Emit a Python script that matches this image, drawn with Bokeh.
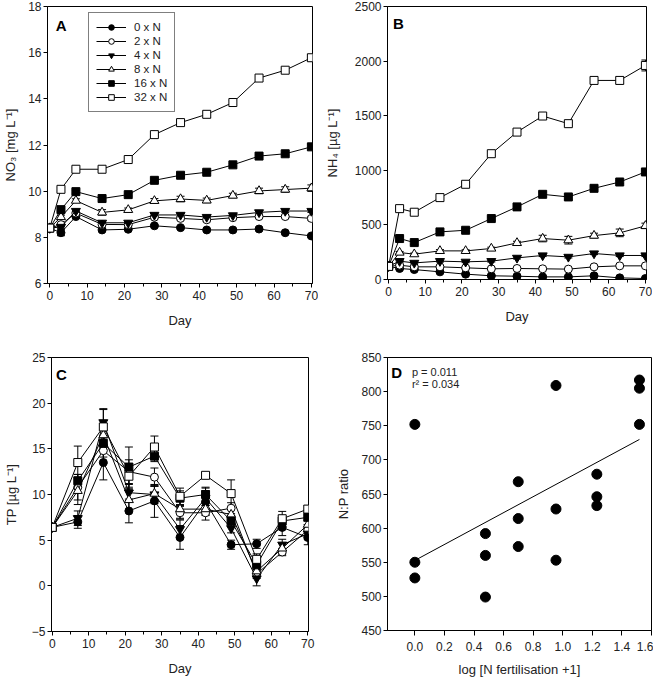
import numpy as np
from bokeh.plotting import figure
from bokeh.models import (Range1d, FixedTicker, Whisker, TeeHead, ColumnDataSource,
                          Legend, LegendItem, Label, CustomJSTickFormatter)
from bokeh.layouts import column, row
from bokeh.embed import file_html
from bokeh.resources import INLINE

FONT = "Liberation Sans"

# ---------------- data ----------------
treatments = ["0 x N", "2 x N", "4 x N", "8 x N", "16 x N", "32 x N"]
markers = ["circle", "circle", "inverted_triangle", "triangle", "square", "square"]
fills = ["black", "white", "black", "white", "black", "white"]
msizes = [8, 8, 9, 9, 8, 8]

days_ab = [0, 3, 7, 14, 21, 28, 35, 42, 49, 56, 63, 70]
days_c = [0, 7, 14, 21, 28, 35, 42, 49, 56, 63, 70]

# Panel A: NO3 [mg L-1]
no3_0 = [8.4, 8.2, 8.9, 8.32, 8.35, 8.5, 8.42, 8.32, 8.32, 8.36, 8.2, 8.06]
no3_2 = [8.4, 8.55, 9.05, 8.56, 8.55, 8.87, 8.82, 8.76, 8.85, 8.9, 8.9, 8.82]
no3_4 = [8.4, 8.45, 9.14, 8.63, 8.63, 8.97, 8.97, 8.88, 8.95, 9.08, 9.14, 9.14]
no3_8 = [8.4, 8.88, 9.59, 9.08, 9.19, 9.58, 9.66, 9.6, 9.81, 10.01, 10.07, 10.13]
no3_16 = [8.4, 9.2, 9.98, 9.68, 9.85, 10.47, 10.69, 10.82, 11.14, 11.52, 11.62, 11.92]
no3_32 = [8.4, 10.08, 10.95, 10.95, 11.37, 12.45, 12.97, 13.33, 13.84, 14.9, 15.24, 15.78]
no3_err_0 = [0, 0.13, 0.06, 0.06, 0.05, 0.05, 0.05, 0.05, 0.05, 0.05, 0.05, 0.06]
no3_err_2 = [0, 0.06, 0.06, 0.05, 0.05, 0.06, 0.06, 0.08, 0.06, 0.06, 0.06, 0.08]
no3_err_4 = [0, 0.06, 0.06, 0.06, 0.06, 0.06, 0.06, 0.05, 0.05, 0.06, 0.06, 0.06]
no3_err_8 = [0, 0.08, 0.08, 0.12, 0.08, 0.1, 0.12, 0.1, 0.1, 0.12, 0.12, 0.14]
no3_err_16 = [0, 0.06, 0.06, 0.06, 0.06, 0.06, 0.06, 0.06, 0.06, 0.06, 0.06, 0.12]
no3_err_32 = [0, 0.08, 0.06, 0.06, 0.06, 0.06, 0.08, 0.14, 0.08, 0.08, 0.08, 0.14]

# Panel B: NH4 [ug L-1]
nh4_0 = [120, 101, 91, 70, 49, 34, 30, 24, 24, 34, 15, 9]
nh4_2 = [120, 131, 116, 116, 107, 98, 101, 98, 95, 116, 125, 125]
nh4_4 = [120, 168, 152, 168, 162, 168, 198, 220, 207, 238, 220, 220]
nh4_8 = [120, 247, 232, 262, 262, 284, 335, 375, 360, 402, 427, 491]
nh4_16 = [120, 375, 338, 436, 451, 558, 665, 780, 756, 835, 893, 985]
nh4_32 = [120, 649, 616, 750, 872, 1152, 1350, 1497, 1427, 1823, 1823, 1960]
nh4_err_0 = [0, 8, 8, 8, 8, 8, 8, 8, 8, 8, 8, 8]
nh4_err_2 = [0, 8, 8, 8, 8, 8, 8, 8, 8, 8, 8, 8]
nh4_err_4 = [0, 8, 8, 8, 8, 8, 10, 10, 10, 10, 10, 10]
nh4_err_8 = [0, 10, 10, 12, 10, 12, 15, 30, 35, 22, 35, 25]
nh4_err_16 = [0, 15, 15, 15, 15, 15, 15, 20, 22, 15, 15, 20]
nh4_err_32 = [0, 15, 15, 15, 15, 20, 20, 15, 15, 15, 30, 50]

# Panel C: TP [ug L-1]
tp_0 = [6.4, 7.0, 13.5, 8.2, 9.3, 5.3, 9.2, 4.5, 4.6, 6.4, 5.3]
tp_2 = [6.4, 10.8, 14.8, 12.5, 11.9, 8.0, 8.0, 8.5, 1.3, 3.7, 6.1]
tp_4 = [6.4, 7.4, 17.9, 10.2, 10.0, 6.2, 9.6, 6.3, 0.8, 4.5, 5.7]
tp_8 = [6.4, 10.4, 16.5, 9.4, 10.1, 8.4, 8.4, 7.8, 1.6, 4.1, 6.7]
tp_16 = [6.4, 11.5, 15.6, 13.0, 14.2, 9.6, 10.0, 7.1, 2.3, 7.1, 7.5]
tp_32 = [6.4, 13.5, 17.4, 12.0, 15.2, 9.8, 12.1, 10.1, 2.9, 7.35, 8.4]
tp_err_0 = [0, 0.7, 1.9, 1.3, 1.8, 1.3, 1.5, 0.5, 0.5, 0.9, 0.8]
tp_err_2 = [0, 1.4, 1.4, 1.3, 1.0, 0.7, 0.8, 0.6, 0.5, 0.4, 0.6]
tp_err_4 = [0, 0.8, 1.5, 0.9, 1.0, 1.0, 0.8, 0.5, 0.8, 0.6, 0.6]
tp_err_8 = [0, 1.5, 1.6, 1.2, 0.8, 1.0, 0.6, 0.7, 0.5, 0.6, 0.5]
tp_err_16 = [0, 0.7, 1.5, 2.2, 0.6, 0.8, 0.8, 0.6, 0.5, 0.6, 0.8]
tp_err_32 = [0, 1.8, 1.9, 1.4, 1.2, 0.9, 0.3, 1.5, 0.6, 0.8, 0.4]

# Panel D: N:P ratio vs log(N fertilisation + 1)
n_levels = [0, 2, 4, 8, 16, 32]
np_ratio = [
    [752, 550, 527],
    [592, 560, 499],
    [668, 614, 573],
    [809, 628, 553],
    [679, 646, 633],
    [817, 805, 752],
]
stat_p = "p = 0.011"
stat_r2 = "r\u00b2 = 0.034"

x_ticks_day = [0, 10, 20, 30, 40, 50, 60, 70]
x_minor_day = [5, 15, 25, 35, 45, 55, 65]


# ---------------- helpers ----------------
def style(p, xticker, yticker, xlabel, ylabel, xlabel_standoff=3, ylabel_standoff=8):
    p.outline_line_color = "black"
    p.outline_line_width = 1
    p.outline_line_alpha = 1
    p.xgrid.visible = False
    p.ygrid.visible = False
    p.xaxis.ticker = xticker
    p.yaxis.ticker = yticker
    p.xaxis.axis_label = xlabel
    p.yaxis.axis_label = ylabel
    for ax in (p.xaxis[0], p.yaxis[0]):
        ax.axis_line_color = "black"
        ax.major_tick_line_color = "black"
        ax.minor_tick_line_color = "black"
        ax.major_tick_out = 4
        ax.major_tick_in = 0
        ax.minor_tick_out = 3
        ax.minor_tick_in = 0
        ax.major_label_text_font = FONT
        ax.major_label_text_font_size = "12px"
        ax.major_label_text_color = "#222222"
        ax.axis_label_text_font = FONT
        ax.axis_label_text_font_size = "13px"
        ax.axis_label_text_font_style = "normal"
        ax.axis_label_text_color = "#222222"
    p.xaxis[0].major_label_standoff = xlabel_standoff
    p.yaxis[0].major_label_standoff = 2
    p.xaxis[0].axis_label_standoff = 10
    p.yaxis[0].axis_label_standoff = ylabel_standoff


def series(p, xs, ys, errs, i):
    src = ColumnDataSource(dict(x=xs, y=ys,
                                up=[a + b for a, b in zip(ys, errs)],
                                lo=[a - b for a, b in zip(ys, errs)]))
    w = Whisker(source=src, base="x", upper="up", lower="lo", dimension="height",
                line_color="black", line_width=1, level="underlay",
                upper_head=TeeHead(size=8, line_color="black", line_width=1),
                lower_head=TeeHead(size=8, line_color="black", line_width=1))
    p.add_layout(w)
    lr = p.line("x", "y", source=src, line_color="black", line_width=1)
    sr = p.scatter("x", "y", source=src, marker=markers[i], size=msizes[i],
                   fill_color=fills[i], line_color="black", line_width=1)
    return lr, sr


def letter(p, x, y, t):
    p.add_layout(Label(x=x, y=y, text=t, text_font=FONT, text_font_size="15px",
                       text_font_style="bold", text_color="black",
                       text_align="left", text_baseline="top"))


# ---------------- Panel A ----------------
pA = figure(frame_width=265, frame_height=277, output_backend="svg", toolbar_location=None,
            x_range=Range1d(-0.6, 70.3), y_range=Range1d(6, 18),
            min_border_left=41, min_border_right=6, min_border_top=5, min_border_bottom=51,
            background_fill_color="white", border_fill_color="white")
style(pA, FixedTicker(ticks=x_ticks_day, minor_ticks=x_minor_day),
      FixedTicker(ticks=[6, 8, 10, 12, 14, 16, 18], minor_ticks=[]),
      "Day", "NO\u2083 [mg L\u207b\u00b9]", ylabel_standoff=7)
a_vals = [no3_0, no3_2, no3_4, no3_8, no3_16, no3_32]
a_errs = [no3_err_0, no3_err_2, no3_err_4, no3_err_8, no3_err_16, no3_err_32]
items = []
for i in range(6):
    lr, sr = series(pA, days_ab, a_vals[i], a_errs[i], i)
    items.append(LegendItem(label=treatments[i], renderers=[lr, sr]))
leg = Legend(items=items, location=(41, 171), orientation="vertical",
             label_text_font=FONT, label_text_font_size="11.5px", label_text_color="#222222",
             label_height=14, glyph_height=14, glyph_width=30, spacing=0, padding=7,
             margin=0, label_standoff=8, border_line_color="black", border_line_width=1,
             background_fill_color="white", background_fill_alpha=1)
pA.add_layout(leg, "center")
letter(pA, 1.6, 17.55, "A")

# ---------------- Panel B ----------------
pB = figure(frame_width=259, frame_height=273, output_backend="svg", toolbar_location=None,
            x_range=Range1d(-0.3, 70.3), y_range=Range1d(0, 2500),
            min_border_left=69, min_border_right=6, min_border_top=6, min_border_bottom=54,
            background_fill_color="white", border_fill_color="white")
style(pB, FixedTicker(ticks=x_ticks_day, minor_ticks=x_minor_day),
      FixedTicker(ticks=[0, 500, 1000, 1500, 2000, 2500], minor_ticks=[]),
      "Day", "NH\u2084 [\u00b5g L\u207b\u00b9]", ylabel_standoff=12)
b_vals = [nh4_0, nh4_2, nh4_4, nh4_8, nh4_16, nh4_32]
b_errs = [nh4_err_0, nh4_err_2, nh4_err_4, nh4_err_8, nh4_err_16, nh4_err_32]
for i in range(6):
    series(pB, days_ab, b_vals[i], b_errs[i], i)
letter(pB, 1.2, 2420, "B")

# ---------------- Panel C ----------------
pC = figure(frame_width=257, frame_height=274, output_backend="svg", toolbar_location=None,
            x_range=Range1d(-0.2, 70.2), y_range=Range1d(-5, 25),
            min_border_left=44, min_border_right=23, min_border_top=24, min_border_bottom=48,
            background_fill_color="white", border_fill_color="white")
style(pC, FixedTicker(ticks=x_ticks_day, minor_ticks=x_minor_day),
      FixedTicker(ticks=[-5, 0, 5, 10, 15, 20, 25], minor_ticks=[]),
      "Day", "TP [\u00b5g L\u207b\u00b9]", ylabel_standoff=10)
c_vals = [tp_0, tp_2, tp_4, tp_8, tp_16, tp_32]
c_errs = [tp_err_0, tp_err_2, tp_err_4, tp_err_8, tp_err_16, tp_err_32]
for i in range(6):
    series(pC, days_c, c_vals[i], c_errs[i], i)
letter(pC, 1.0, 24.1, "C")

# ---------------- Panel D ----------------
pD = figure(frame_width=264, frame_height=273, output_backend="svg", toolbar_location=None,
            x_range=Range1d(-0.185, 1.6), y_range=Range1d(450, 850),
            min_border_left=56, min_border_right=2, min_border_top=24, min_border_bottom=49,
            background_fill_color="white", border_fill_color="white")
style(pD, FixedTicker(ticks=[0.0, 0.2, 0.4, 0.6, 0.8, 1.0, 1.2, 1.4, 1.6], minor_ticks=[]),
      FixedTicker(ticks=[450, 500, 550, 600, 650, 700, 750, 800, 850], minor_ticks=[]),
      "log [N fertilisation +1]", "N:P ratio", xlabel_standoff=6, ylabel_standoff=7)
pD.xaxis[0].major_tick_out = 5
pD.xaxis[0].axis_label_standoff = 8
pD.xaxis[0].formatter = CustomJSTickFormatter(code="return tick.toFixed(1);")
dx, dy = [], []
for n, vals in zip(n_levels, np_ratio):
    for v in vals:
        dx.append(float(np.log10(n + 1)))
        dy.append(v)
slope, icpt = np.polyfit(dx, dy, 1)
fx = [min(dx), max(dx)]
pD.line(fx, [icpt + slope * v for v in fx], line_color="black", line_width=1)
pD.scatter(dx, dy, marker="circle", size=10, fill_color="black", line_color="black")
letter(pD, -0.16, 841, "D")
pD.add_layout(Label(x=-0.02, y=829, text=stat_p, text_font=FONT, text_font_size="11px",
                    text_color="#222222", text_align="left", text_baseline="middle"))
pD.add_layout(Label(x=-0.02, y=811.5, text=stat_r2, text_font=FONT, text_font_size="11px",
                    text_color="#222222", text_align="left", text_baseline="middle"))

layout = column(row(pA, pB), row(pC, pD))
open("out.html", "w").write(file_html(layout, INLINE))
